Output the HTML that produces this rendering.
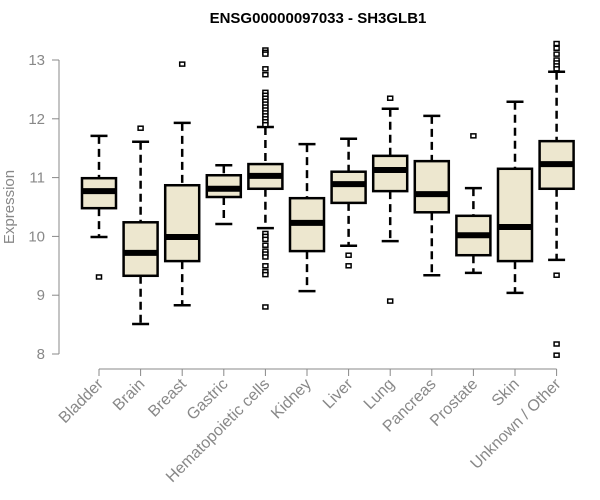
<!DOCTYPE html>
<html><head><meta charset="utf-8"><style>
body{margin:0;background:#fff}
svg{display:block;font-family:"Liberation Sans",Arial,sans-serif}
</style></head><body>
<svg id="chart" width="600" height="500">
<text x="318" y="23" text-anchor="middle" font-weight="bold" font-size="15" fill="#000">ENSG00000097033 - SH3GLB1</text>
<text transform="translate(14,207) rotate(-90)" text-anchor="middle" font-size="15" fill="#888">Expression</text>
<g id="axes"></g><g id="boxes"></g>
</svg>
<script>
const categories=["Bladder","Brain","Breast","Gastric","Hematopoietic cells","Kidney","Liver","Lung","Pancreas","Prostate","Skin","Unknown / Other"];
const whiskerLow=[9.99,8.51,8.83,10.21,10.14,9.07,9.84,9.92,9.34,9.38,9.04,9.6];
const q1=[10.48,9.33,9.58,10.67,10.81,9.75,10.57,10.77,10.41,9.68,9.58,10.81];
const medians=[10.77,9.72,9.99,10.81,11.03,10.23,10.89,11.13,10.72,10.02,10.16,11.23];
const q3=[10.99,10.24,10.87,11.04,11.23,10.65,11.10,11.37,11.28,10.35,11.15,11.62];
const whiskerHigh=[11.71,11.61,11.93,11.21,11.86,11.57,11.66,12.17,12.05,10.82,12.29,12.8];
const outliers=[[9.31],[11.84],[12.93],[],[13.17,13.13,13.1,12.85,12.75,12.45,12.4,12.35,12.3,12.25,12.2,12.15,12.1,12.05,12.0,11.95,11.9,10.05,10.0,9.95,9.85,9.75,9.7,9.65,9.5,9.4,9.35,8.8],[],[9.68,9.50],[12.35,8.9],[],[11.71],[],[13.28,13.2,13.1,13.0,12.95,12.9,12.85,9.34,8.17,7.98]];
const yTicks=[8,9,10,11,12,13];
const NS="http://www.w3.org/2000/svg";
const y=v=>60+(13-v)*58.8;
const x=i=>99+i*41.6;
const hw=17;
function mk(p,tag,a){const e=document.createElementNS(NS,tag);for(const k in a)e.setAttribute(k,a[k]);p.appendChild(e);return e;}
const ax=document.getElementById('axes'),bx=document.getElementById('boxes');
let l=mk(ax,'line',{x1:59,x2:59,y1:y(13),y2:y(8),stroke:'#888'});


yTicks.forEach(t=>{
 const tk=mk(ax,'line',{x1:52,x2:59,y1:y(t),y2:y(t),stroke:'#888'});
 
 
 const tx=mk(ax,'text',{x:45,y:y(t)+5,'text-anchor':'end','font-size':15,fill:'#888'});tx.textContent=t;
 
 
});
l=mk(ax,'line',{x1:x(0),x2:x(categories.length-1),y1:369,y2:369,stroke:'#888'});


categories.forEach((c,i)=>{
 const tk=mk(ax,'line',{x1:x(i),x2:x(i),y1:369,y2:376,stroke:'#888'});
 
 
 const tx=mk(ax,'text',{transform:`translate(${x(i)+5},385) rotate(-45)`,'text-anchor':'end','font-size':16,fill:'#888'});tx.textContent=c;
 
 
 const g=mk(bx,'g',{});
 
 
 const cx=x(i);
 mk(g,'line',{x1:cx,x2:cx,y1:y(whiskerHigh[i]),y2:y(q3[i]),stroke:'#000','stroke-width':2.5,'stroke-dasharray':'8,5'});
 mk(g,'line',{x1:cx,x2:cx,y1:y(q1[i]),y2:y(whiskerLow[i]),stroke:'#000','stroke-width':2.5,'stroke-dasharray':'8,5'});
 mk(g,'line',{x1:cx-8.5,x2:cx+8.5,y1:y(whiskerHigh[i]),y2:y(whiskerHigh[i]),stroke:'#000','stroke-width':2.5});
 mk(g,'line',{x1:cx-8.5,x2:cx+8.5,y1:y(whiskerLow[i]),y2:y(whiskerLow[i]),stroke:'#000','stroke-width':2.5});
 mk(g,'rect',{x:cx-hw,y:y(q3[i]),width:2*hw,height:y(q1[i])-y(q3[i]),fill:'#ede7cf',stroke:'#000','stroke-width':2.5});
 mk(g,'line',{x1:cx-hw,x2:cx+hw,y1:y(medians[i]),y2:y(medians[i]),stroke:'#000','stroke-width':6});
 outliers[i].forEach(o=>{
  const r=mk(g,'rect',{x:cx-2.5,y:y(o)-2,width:5,height:4,fill:'#fff',stroke:'#000','stroke-width':1.5});
  
  
 });
});
</script>
</body></html>
